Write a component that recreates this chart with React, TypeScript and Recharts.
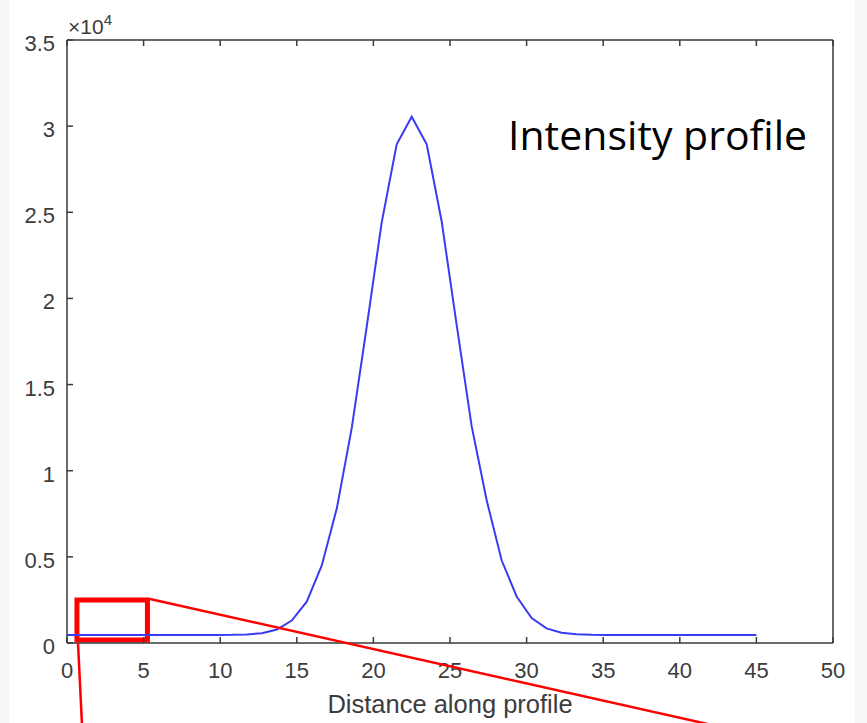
import React from "react";
import {
  LineChart,
  Line,
  XAxis,
  YAxis,
  ReferenceArea,
} from "recharts";

// distance along the profile (47 samples, 0 .. 45)
const distance = [
  0, 0.98, 1.96, 2.93, 3.91, 4.89, 5.87, 6.85, 7.83, 8.8, 9.78, 10.76, 11.74,
  12.72, 13.7, 14.67, 15.65, 16.63, 17.61, 18.59, 19.57, 20.54, 21.52, 22.5,
  23.48, 24.46, 25.43, 26.41, 27.39, 28.37, 29.35, 30.33, 31.3, 32.28, 33.26,
  34.24, 35.22, 36.2, 37.17, 38.15, 39.13, 40.11, 41.09, 42.07, 43.04, 44.02, 45,
];

const intensity = [
  470, 470, 470, 470, 470, 470, 470, 470, 470, 470, 470, 475, 500, 570, 780,
  1300, 2400, 4500, 7800, 12500, 18400, 24400, 28950, 30550, 28950, 24450,
  18500, 12600, 8300, 4800, 2700, 1450, 850, 600, 510, 480, 470, 470, 470, 470,
  470, 470, 470, 470, 470, 470, 470,
];

const xTicks = [0, 5, 10, 15, 20, 25, 30, 35, 40, 45, 50];
const yTicks = [0, 5000, 10000, 15000, 20000, 25000, 30000, 35000];

const data = distance.map((d, i) => ({ d, v: intensity[i] }));

const AXIS = "#3a3a3a";
const FONT = "'Liberation Sans', Arial, sans-serif";

const BottomTick = (props: any) => {
  const { x, y, payload } = props;
  return (
    <g>
      <line x1={x} y1={y} x2={x} y2={y - 6} stroke={AXIS} strokeWidth={1.5} />
      <text x={x} y={y + 35} textAnchor="middle" fontSize={22} fill="#3c3c3c" fontFamily={FONT}>
        {payload.value}
      </text>
    </g>
  );
};

const TopTick = (props: any) => {
  const { x, y } = props;
  return <line x1={x} y1={y} x2={x} y2={y + 6} stroke={AXIS} strokeWidth={1.5} />;
};

const LeftTick = (props: any) => {
  const { x, y, payload } = props;
  return (
    <g>
      <line x1={x} y1={y} x2={x + 6} y2={y} stroke={AXIS} strokeWidth={1.5} />
      <text x={x - 12} y={y + 11} textAnchor="end" fontSize={22} fill="#3c3c3c" fontFamily={FONT}>
        {payload.value / 10000}
      </text>
    </g>
  );
};

const RightTick = (props: any) => {
  const { x, y } = props;
  return <line x1={x} y1={y} x2={x - 6} y2={y} stroke={AXIS} strokeWidth={1.5} />;
};

const ExpLabel = (props: any) => {
  const { x, y, width } = props.viewBox;
  return (
    <text x={x + width + 1} y={y - 6} fontSize={21} fill="#3c3c3c" fontFamily={FONT}>
      ×10
      <tspan fontSize={15} dy={-9}>4</tspan>
    </text>
  );
};

const XLabel = (props: any) => {
  const { x, y, width } = props.viewBox;
  return (
    <text x={x + width / 2} y={y + 70} textAnchor="middle" fontSize={25.5} fill="#3c3c3c" fontFamily={FONT}>
      Distance along profile
    </text>
  );
};

export default function App() {
  return (
    <div style={{ position: "absolute", left: 0, top: 0, width: 867, height: 723, background: "#f6f6f6" }}>
      <div style={{ position: "absolute", left: 9, top: 0, width: 846, height: 723, background: "#ffffff" }} />
      <div style={{ position: "absolute", left: 0, top: 0 }}>
        <LineChart width={867} height={723} data={data} margin={{ top: 39, right: 33, bottom: 50, left: 7 }}>
          <XAxis
            xAxisId="b"
            dataKey="d"
            type="number"
            domain={[0, 50]}
            ticks={xTicks}
            height={30}
            tickSize={0}
            tickMargin={0}
            tick={<BottomTick />}
            axisLine={{ stroke: AXIS, strokeWidth: 1.5 }}
            tickLine={false}
            label={<XLabel />}
          />
          <XAxis
            xAxisId="t"
            orientation="top"
            dataKey="d"
            type="number"
            domain={[0, 50]}
            ticks={xTicks}
            height={1}
            tickSize={0}
            tickMargin={0}
            tick={<TopTick />}
            axisLine={{ stroke: AXIS, strokeWidth: 1.5 }}
            tickLine={false}
          />
          <YAxis
            yAxisId="l"
            type="number"
            domain={[0, 35000]}
            ticks={yTicks}
            width={60}
            tickSize={0}
            tickMargin={0}
            tick={<LeftTick />}
            axisLine={{ stroke: AXIS, strokeWidth: 1.5 }}
            tickLine={false}
            label={<ExpLabel />}
          />
          <YAxis
            yAxisId="r"
            orientation="right"
            type="number"
            domain={[0, 35000]}
            ticks={yTicks}
            width={1}
            tickSize={0}
            tickMargin={0}
            tick={<RightTick />}
            axisLine={{ stroke: AXIS, strokeWidth: 1.5 }}
            tickLine={false}
          />
          <Line
            xAxisId="b"
            yAxisId="l"
            type="linear"
            dataKey="v"
            stroke="#3b3bf2"
            strokeWidth={2}
            dot={false}
            isAnimationActive={false}
          />
          <ReferenceArea
            xAxisId="b"
            yAxisId="l"
            x1={0.65}
            x2={5.25}
            y1={170}
            y2={2500}
            stroke="#ff0000"
            strokeWidth={5}
            fill="none"
            fillOpacity={0}
          />
        </LineChart>
      </div>
      <svg
        width={867}
        height={723}
        style={{ position: "absolute", left: 0, top: 0, pointerEvents: "none" }}
      >
        <line x1={150} y1={599} x2={712} y2={725} stroke="#ff0000" strokeWidth={2.5} />
        <line x1={78} y1={643} x2={82} y2={725} stroke="#ff0000" strokeWidth={2.5} />
        <text x={508} y={150} fontSize={41} fill="#000000" fontFamily="'Open Sans', sans-serif">
          Intensity profile
        </text>
      </svg>
    </div>
  );
}
